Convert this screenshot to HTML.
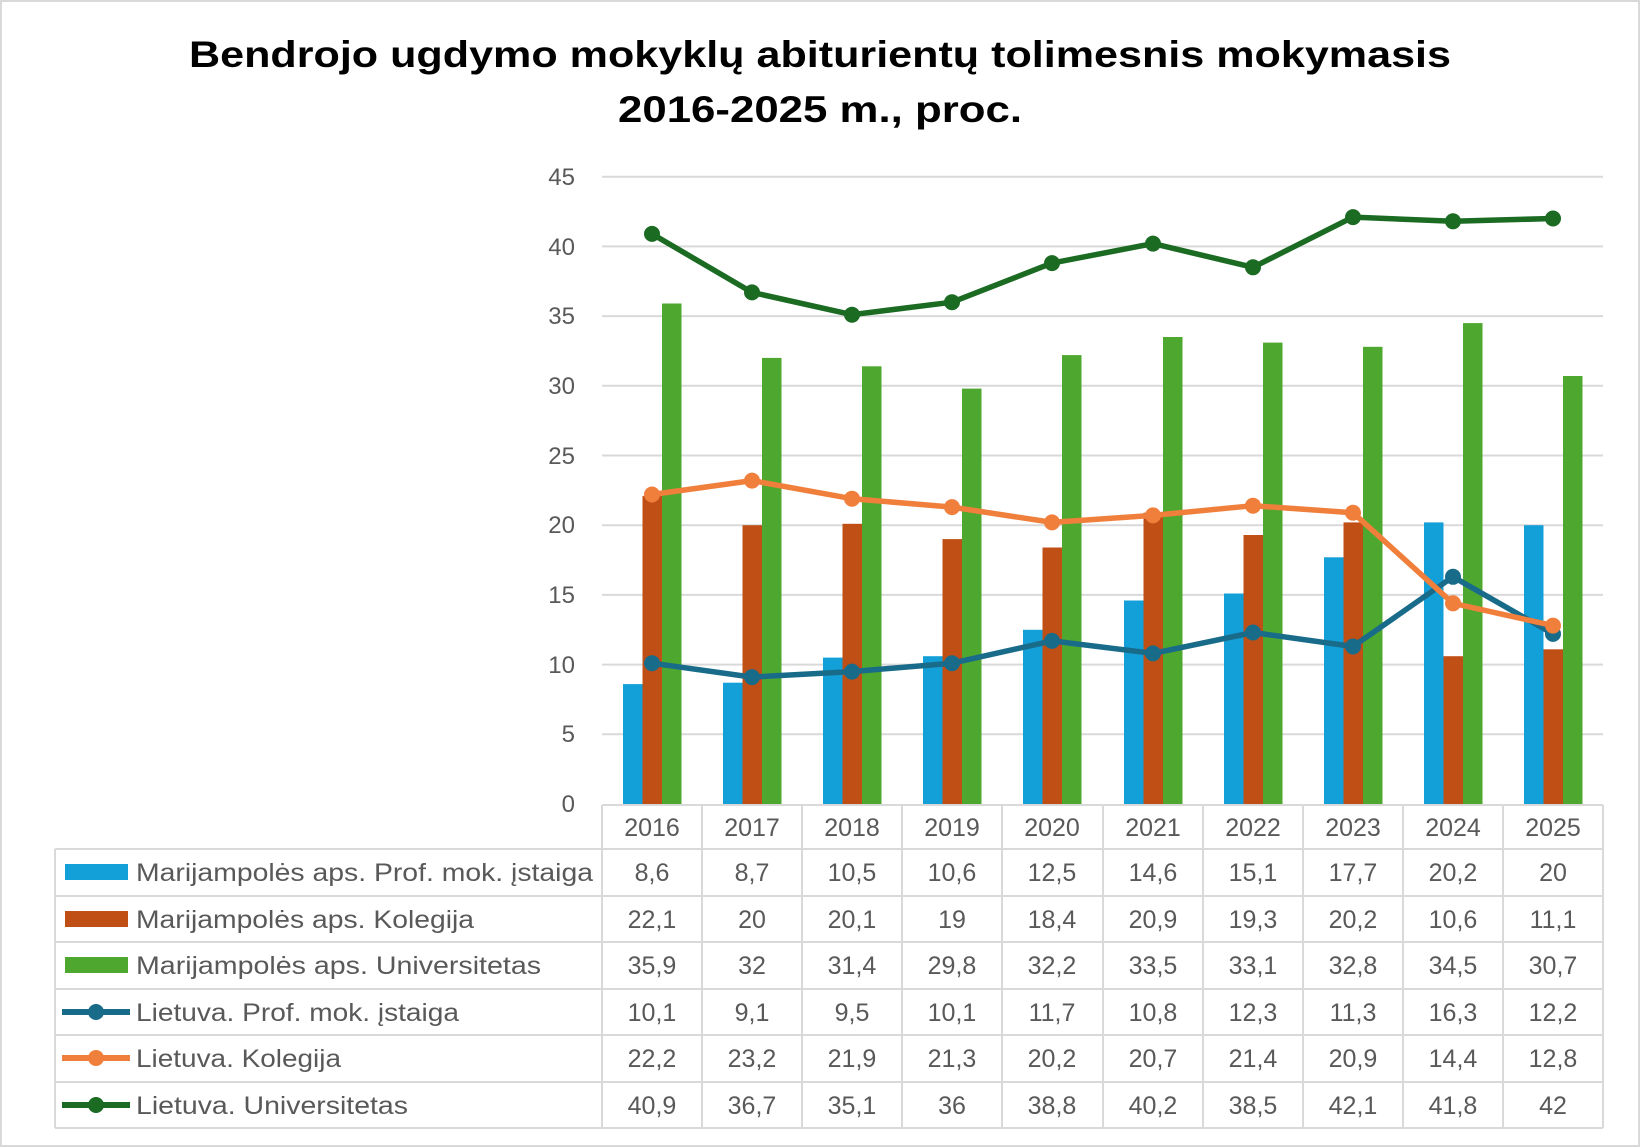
<!DOCTYPE html>
<html><head><meta charset="utf-8"><style>
html,body{margin:0;padding:0;background:#fff}
svg{display:block;font-family:"Liberation Sans",sans-serif}
</style></head><body>
<svg width="1640" height="1147" viewBox="0 0 1640 1147" xmlns="http://www.w3.org/2000/svg">
<rect x="1" y="1" width="1638" height="1145" fill="#fff" stroke="#d9d9d9" stroke-width="2"/>
<g font-weight="bold" font-size="37" fill="#000" text-anchor="middle">
<text x="820" y="67" textLength="1262" lengthAdjust="spacingAndGlyphs">Bendrojo ugdymo mokyklų abiturientų tolimesnis mokymasis</text>
<text x="820" y="122" textLength="404" lengthAdjust="spacingAndGlyphs">2016-2025 m., proc.</text>
</g>
<g stroke="#d9d9d9" stroke-width="2">
<line x1="602" x2="1603" y1="176.7" y2="176.7"/><line x1="602" x2="1603" y1="246.4" y2="246.4"/>
<line x1="602" x2="1603" y1="316.1" y2="316.1"/><line x1="602" x2="1603" y1="385.8" y2="385.8"/>
<line x1="602" x2="1603" y1="455.5" y2="455.5"/><line x1="602" x2="1603" y1="525.2" y2="525.2"/>
<line x1="602" x2="1603" y1="594.9" y2="594.9"/><line x1="602" x2="1603" y1="664.6" y2="664.6"/>
<line x1="602" x2="1603" y1="734.3" y2="734.3"/>
</g>
<g font-size="24" fill="#595959" text-anchor="end">
<text x="575" y="185">45</text><text x="575" y="255">40</text><text x="575" y="324">35</text>
<text x="575" y="394">30</text><text x="575" y="464">25</text><text x="575" y="533">20</text>
<text x="575" y="603">15</text><text x="575" y="673">10</text><text x="575" y="742">5</text>
<text x="575" y="812">0</text>
</g>
<g fill="#139fd7">
<rect x="623" y="684.1" width="19.5" height="119.9"/><rect x="723" y="682.7" width="19.5" height="121.3"/>
<rect x="823" y="657.6" width="19.5" height="146.4"/><rect x="923" y="656.2" width="19.5" height="147.8"/>
<rect x="1023" y="629.8" width="19.5" height="174.2"/><rect x="1124" y="600.5" width="19.5" height="203.5"/>
<rect x="1224" y="593.5" width="19.5" height="210.5"/><rect x="1324" y="557.3" width="19.5" height="246.7"/>
<rect x="1424" y="522.4" width="19.5" height="281.6"/><rect x="1524" y="525.2" width="19.5" height="278.8"/>
</g>
<g fill="#c04f15">
<rect x="642.5" y="495.9" width="19.5" height="308.1"/><rect x="742.5" y="525.2" width="19.5" height="278.8"/>
<rect x="842.5" y="523.8" width="19.5" height="280.2"/><rect x="942.5" y="539.1" width="19.5" height="264.9"/>
<rect x="1042.5" y="547.5" width="19.5" height="256.5"/><rect x="1143.5" y="512.7" width="19.5" height="291.3"/>
<rect x="1243.5" y="535" width="19.5" height="269"/><rect x="1343.5" y="522.4" width="19.5" height="281.6"/>
<rect x="1443.5" y="656.2" width="19.5" height="147.8"/><rect x="1543.5" y="649.3" width="19.5" height="154.7"/>
</g>
<g fill="#4ea72e">
<rect x="662" y="303.5" width="19.5" height="500.5"/><rect x="762" y="357.9" width="19.5" height="446.1"/>
<rect x="862" y="366.3" width="19.5" height="437.7"/><rect x="962" y="388.6" width="19.5" height="415.4"/>
<rect x="1062" y="355.1" width="19.5" height="448.9"/><rect x="1163" y="337" width="19.5" height="467"/>
<rect x="1263" y="342.6" width="19.5" height="461.4"/><rect x="1363" y="346.8" width="19.5" height="457.2"/>
<rect x="1463" y="323.1" width="19.5" height="480.9"/><rect x="1563" y="376" width="19.5" height="428"/>
</g>
<g fill="none" stroke-width="5.5" stroke-linejoin="round">
<polyline stroke="#196b8a" points="652,663.2 752,677.1 852,671.6 952,663.2 1052,640.9 1153,653.4 1253,632.5 1353,646.5 1453,576.8 1553,633.9"/>
<polyline stroke="#f07f3c" points="652,494.5 752,480.6 852,498.7 952,507.1 1052,522.4 1153,515.4 1253,505.7 1353,512.7 1453,603.3 1553,625.6"/>
<polyline stroke="#1b6b23" points="652,233.9 752,292.4 852,314.7 952,302.2 1052,263.1 1153,243.6 1253,267.3 1353,217.1 1453,221.3 1553,218.5"/>
</g>
<g fill="#196b8a">
<circle cx="652" cy="663.2" r="8"/><circle cx="752" cy="677.1" r="8"/><circle cx="852" cy="671.6" r="8"/><circle cx="952" cy="663.2" r="8"/><circle cx="1052" cy="640.9" r="8"/><circle cx="1153" cy="653.4" r="8"/><circle cx="1253" cy="632.5" r="8"/><circle cx="1353" cy="646.5" r="8"/><circle cx="1453" cy="576.8" r="8"/><circle cx="1553" cy="633.9" r="8"/>
</g>
<g fill="#f07f3c">
<circle cx="652" cy="494.5" r="8"/><circle cx="752" cy="480.6" r="8"/><circle cx="852" cy="498.7" r="8"/><circle cx="952" cy="507.1" r="8"/><circle cx="1052" cy="522.4" r="8"/><circle cx="1153" cy="515.4" r="8"/><circle cx="1253" cy="505.7" r="8"/><circle cx="1353" cy="512.7" r="8"/><circle cx="1453" cy="603.3" r="8"/><circle cx="1553" cy="625.6" r="8"/>
</g>
<g fill="#1b6b23">
<circle cx="652" cy="233.9" r="8"/><circle cx="752" cy="292.4" r="8"/><circle cx="852" cy="314.7" r="8"/><circle cx="952" cy="302.2" r="8"/><circle cx="1052" cy="263.1" r="8"/><circle cx="1153" cy="243.6" r="8"/><circle cx="1253" cy="267.3" r="8"/><circle cx="1353" cy="217.1" r="8"/><circle cx="1453" cy="221.3" r="8"/><circle cx="1553" cy="218.5" r="8"/>
</g>
<g stroke="#d9d9d9" stroke-width="2">
<line x1="602" x2="1603" y1="805" y2="805"/>
<line x1="55" x2="1603" y1="849" y2="849"/><line x1="55" x2="1603" y1="896" y2="896"/>
<line x1="55" x2="1603" y1="942" y2="942"/><line x1="55" x2="1603" y1="989" y2="989"/>
<line x1="55" x2="1603" y1="1035" y2="1035"/><line x1="55" x2="1603" y1="1082" y2="1082"/>
<line x1="55" x2="1603" y1="1128" y2="1128"/>
<line x1="55" x2="55" y1="849" y2="1128"/>
<line x1="602" x2="602" y1="805" y2="1128"/><line x1="702" x2="702" y1="805" y2="1128"/>
<line x1="802" x2="802" y1="805" y2="1128"/><line x1="902" x2="902" y1="805" y2="1128"/>
<line x1="1002" x2="1002" y1="805" y2="1128"/><line x1="1103" x2="1103" y1="805" y2="1128"/>
<line x1="1203" x2="1203" y1="805" y2="1128"/><line x1="1303" x2="1303" y1="805" y2="1128"/>
<line x1="1403" x2="1403" y1="805" y2="1128"/><line x1="1503" x2="1503" y1="805" y2="1128"/>
<line x1="1603" x2="1603" y1="805" y2="1128"/>
</g>
<rect x="65" y="864" width="63" height="16" fill="#139fd7"/>
<rect x="65" y="911" width="63" height="16" fill="#c04f15"/>
<rect x="65" y="957" width="63" height="16" fill="#4ea72e"/>
<g stroke-width="6"><line x1="62" x2="130" y1="1012" y2="1012" stroke="#196b8a"/><line x1="62" x2="130" y1="1058" y2="1058" stroke="#f07f3c"/><line x1="62" x2="130" y1="1105" y2="1105" stroke="#1b6b23"/></g>
<circle cx="96" cy="1012" r="8" fill="#196b8a"/><circle cx="96" cy="1058" r="8" fill="#f07f3c"/><circle cx="96" cy="1105" r="8" fill="#1b6b23"/>
<g font-size="25" fill="#595959">
<text x="136" y="881" textLength="457" lengthAdjust="spacingAndGlyphs">Marijampolės aps. Prof. mok. įstaiga</text>
<text x="136" y="928" textLength="338" lengthAdjust="spacingAndGlyphs">Marijampolės aps. Kolegija</text>
<text x="136" y="974" textLength="405" lengthAdjust="spacingAndGlyphs">Marijampolės aps. Universitetas</text>
<text x="136" y="1021" textLength="323" lengthAdjust="spacingAndGlyphs">Lietuva. Prof. mok. įstaiga</text>
<text x="136" y="1067" textLength="205" lengthAdjust="spacingAndGlyphs">Lietuva. Kolegija</text>
<text x="136" y="1114" textLength="272" lengthAdjust="spacingAndGlyphs">Lietuva. Universitetas</text>
</g>
<g font-size="25" fill="#595959" text-anchor="middle">
<text x="652" y="836">2016</text><text x="752" y="836">2017</text><text x="852" y="836">2018</text><text x="952" y="836">2019</text><text x="1052" y="836">2020</text><text x="1153" y="836">2021</text><text x="1253" y="836">2022</text><text x="1353" y="836">2023</text><text x="1453" y="836">2024</text><text x="1553" y="836">2025</text>
<text x="652" y="881">8,6</text><text x="752" y="881">8,7</text><text x="852" y="881">10,5</text><text x="952" y="881">10,6</text><text x="1052" y="881">12,5</text><text x="1153" y="881">14,6</text><text x="1253" y="881">15,1</text><text x="1353" y="881">17,7</text><text x="1453" y="881">20,2</text><text x="1553" y="881">20</text>
<text x="652" y="928">22,1</text><text x="752" y="928">20</text><text x="852" y="928">20,1</text><text x="952" y="928">19</text><text x="1052" y="928">18,4</text><text x="1153" y="928">20,9</text><text x="1253" y="928">19,3</text><text x="1353" y="928">20,2</text><text x="1453" y="928">10,6</text><text x="1553" y="928">11,1</text>
<text x="652" y="974">35,9</text><text x="752" y="974">32</text><text x="852" y="974">31,4</text><text x="952" y="974">29,8</text><text x="1052" y="974">32,2</text><text x="1153" y="974">33,5</text><text x="1253" y="974">33,1</text><text x="1353" y="974">32,8</text><text x="1453" y="974">34,5</text><text x="1553" y="974">30,7</text>
<text x="652" y="1021">10,1</text><text x="752" y="1021">9,1</text><text x="852" y="1021">9,5</text><text x="952" y="1021">10,1</text><text x="1052" y="1021">11,7</text><text x="1153" y="1021">10,8</text><text x="1253" y="1021">12,3</text><text x="1353" y="1021">11,3</text><text x="1453" y="1021">16,3</text><text x="1553" y="1021">12,2</text>
<text x="652" y="1067">22,2</text><text x="752" y="1067">23,2</text><text x="852" y="1067">21,9</text><text x="952" y="1067">21,3</text><text x="1052" y="1067">20,2</text><text x="1153" y="1067">20,7</text><text x="1253" y="1067">21,4</text><text x="1353" y="1067">20,9</text><text x="1453" y="1067">14,4</text><text x="1553" y="1067">12,8</text>
<text x="652" y="1114">40,9</text><text x="752" y="1114">36,7</text><text x="852" y="1114">35,1</text><text x="952" y="1114">36</text><text x="1052" y="1114">38,8</text><text x="1153" y="1114">40,2</text><text x="1253" y="1114">38,5</text><text x="1353" y="1114">42,1</text><text x="1453" y="1114">41,8</text><text x="1553" y="1114">42</text>
</g>
</svg>
</body></html>
